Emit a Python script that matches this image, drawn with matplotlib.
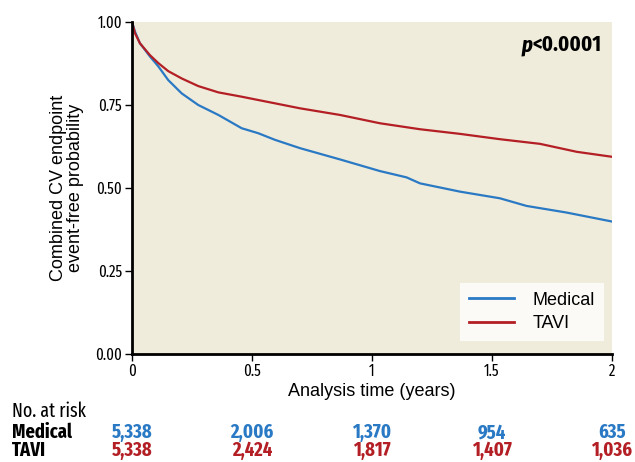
import matplotlib
matplotlib.use("Agg")
import matplotlib.pyplot as plt
import matplotlib.transforms as mtransforms

# survival curves (time in years, event-free probability)
t_med = [0, 0.0125, 0.033, 0.075, 0.11, 0.151, 0.207, 0.276, 0.36, 0.457, 0.526,
         0.596, 0.70, 0.867, 1.033, 1.144, 1.2, 1.367, 1.533, 1.644, 1.811, 2.0]
s_med = [1.0, 0.971, 0.936, 0.896, 0.866, 0.825, 0.785, 0.75, 0.72, 0.68, 0.665,
         0.645, 0.62, 0.586, 0.551, 0.532, 0.514, 0.489, 0.469, 0.446, 0.426, 0.399]
t_tavi = [0, 0.0125, 0.033, 0.075, 0.11, 0.151, 0.207, 0.276, 0.36, 0.457, 0.526,
          0.596, 0.70, 0.867, 1.033, 1.2, 1.367, 1.533, 1.70, 1.853, 2.0]
s_tavi = [1.0, 0.966, 0.936, 0.90, 0.876, 0.852, 0.83, 0.807, 0.788, 0.775, 0.765,
          0.755, 0.74, 0.72, 0.695, 0.677, 0.663, 0.647, 0.633, 0.609, 0.594]

risk_times = [0, 0.5, 1, 1.5, 2]
risk_med = ["5,338", "2,006", "1,370", "954", "635"]
risk_tavi = ["5,338", "2,424", "1,817", "1,407", "1,036"]

xticks = [0, 0.5, 1, 1.5, 2]
xticklabels = ["0", "0.5", "1", "1.5", "2"]
yticks = [0, 0.25, 0.5, 0.75, 1.0]
yticklabels = ["0.00", "0.25", "0.50", "0.75", "1.00"]

blue = "#2a79c4"
red = "#b31f24"
cond = ["Fira Sans Extra Condensed", "DejaVu Sans"]
plt.rcParams["font.family"] = ["Liberation Sans", "DejaVu Sans"]

fig = plt.figure(figsize=(6.35, 4.62), dpi=100)
ax = fig.add_axes([132/635, 1-354/462, 480/635, 332/462])
ax.set_facecolor("#f0ecdb")

ax.plot(t_med, s_med, color=blue, lw=1.6, label="Medical")
ax.plot(t_tavi, s_tavi, color=red, lw=1.6, label="TAVI")

ax.set_xlim(0, 2)
ax.set_ylim(0, 1)
ax.set_xticks(xticks)
ax.set_xticklabels(xticklabels, fontfamily=cond, fontsize=11.5)
ax.set_yticks(yticks)
ax.set_yticklabels(yticklabels, fontfamily=cond, fontsize=11.5)
ax.tick_params(direction="out", length=5, width=1, pad=2)

for s in ["top", "right"]:
    ax.spines[s].set_visible(False)
ax.spines["left"].set_linewidth(2)
ax.spines["bottom"].set_linewidth(2)

ax.set_xlabel("Analysis time (years)", fontsize=13, labelpad=2)
ax.set_ylabel("Combined CV endpoint\nevent-free probability", fontsize=13,
              labelpad=8, linespacing=1.0)

pval = ax.text(0.9775, 0.93, "<0.0001", transform=ax.transAxes, ha="right",
               va="center", fontsize=16, fontweight="bold", fontfamily=cond)
ax.annotate("p", xy=(0, 0.5), xycoords=pval, ha="right", va="center",
            fontsize=16, fontweight="bold", fontstyle="italic", fontfamily=cond)

leg = ax.legend(loc="lower right", bbox_to_anchor=(0.983, 0.039), fontsize=13,
                frameon=True, fancybox=False, handlelength=2.5, handletextpad=1.0,
                borderpad=0.5, borderaxespad=0, labelspacing=0.35)
leg.get_frame().set_facecolor("#fbfaf6")
leg.get_frame().set_edgecolor("none")
leg.get_frame().set_alpha(1)
for ln in leg.get_lines():
    ln.set_linewidth(2)

# number at risk table (x in data units, y in figure units, baselines)
trans = mtransforms.blended_transform_factory(ax.transData, fig.transFigure)
y_head, y_med, y_tavi = 1-417/462, 1-438/462, 1-456.5/462
fig.text(12/635, y_head, "No. at risk", fontsize=14, fontfamily=cond,
         va="baseline")
fig.text(12/635, y_med, "Medical", fontsize=14.5, fontweight="bold",
         fontfamily=cond, va="baseline")
fig.text(12/635, y_tavi, "TAVI", fontsize=14.5, fontweight="bold",
         fontfamily=cond, va="baseline")
for i in range(len(risk_times)):
    ax.text(risk_times[i], y_med, risk_med[i], transform=trans, color=blue,
            fontsize=14.5, fontweight="bold", fontfamily=cond, ha="center",
            va="baseline", clip_on=False)
    ax.text(risk_times[i], y_tavi, risk_tavi[i], transform=trans, color=red,
            fontsize=14.5, fontweight="bold", fontfamily=cond, ha="center",
            va="baseline", clip_on=False)

fig.savefig("out.png", dpi=100)
